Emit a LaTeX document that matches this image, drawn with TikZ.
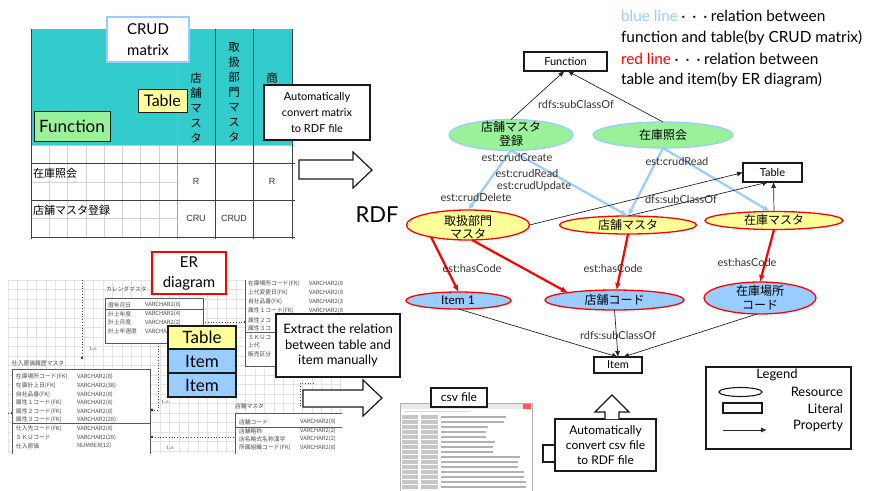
\documentclass[tikz,border=0pt]{standalone}
\usepackage{fontspec}
\setmainfont{Lato}
\newfontfamily\jp{Noto Sans CJK JP}
\newfontfamily\arialf{Liberation Sans}
\usetikzlibrary{arrows.meta,shapes.geometric}
\definecolor{teal1}{HTML}{33CCCC}
\definecolor{fngreen}{HTML}{99F299}
\definecolor{tyellow}{HTML}{FFFF99}
\definecolor{iblue}{HTML}{99CCFF}
\definecolor{lblue}{HTML}{99CCFF}
\definecolor{dk}{HTML}{1A1A1A}
\newcommand{\fz}[2]{\fontsize{#1}{#2}\selectfont}
\begin{document}
\begin{tikzpicture}[x=1pt,y=-1pt,
  every node/.style={inner sep=0pt, outer sep=0pt},
  ert/.style={font=\jp\fz{5.8}{7}, text=black!70, anchor=west},
  ertbl/.style={draw=black!65, fill=white, line width=0.7pt},
  gridc/.style={gray!22, line width=0.4pt},
  dotl/.style={black!70, dotted, line width=0.8pt},
  box/.style={draw=dk, fill=white, line width=1.1pt, align=center},
  lbl/.style={font=\fz{11}{12}, text=black!80},
  res/.style={ellipse, line width=1.3pt},
  fnres/.style={res, fill=fngreen, draw=lblue},
  tbres/.style={res, fill=tyellow, draw=red},
  itres/.style={res, fill=iblue, draw=red},
  lit/.style={draw=dk, fill=white, line width=1.1pt},
  jpt/.style={font=\jp\fz{12}{14}, align=center},
  subarrow/.style={-{Latex[length=6pt,width=5pt]}, line width=0.7pt, black!85},
  crudarrow/.style={-{Latex[length=7pt,width=6pt]}, line width=2.2pt, lblue},
  hasarrow/.style={-{Latex[length=7pt,width=6pt]}, line width=2.2pt, red},
  stk/.style={draw=dk, line width=1.1pt, minimum width=68, font=\fz{17}{19}},
  hollow/.style={draw=dk, fill=white, line width=1.2pt, line join=miter}
]
\useasboundingbox (0,0) rectangle (870,490);
\fill[white] (0,0) rectangle (870,490);

% ================= CRUD matrix =================
\fill[teal1] (31,29) rectangle (293,145);
\foreach \gx in {49.25,67.5,85.75,104,122.25,140.5,158.75}
  \draw[gray!35, line width=0.5pt] (\gx,145) -- (\gx,237);
\foreach \gy in {182,218}
  \draw[gray!35, line width=0.5pt] (31,\gy) -- (177,\gy);
\draw[gray!45, line width=0.6pt] (31,145) -- (295,145);
\draw[gray!70, line width=0.6pt] (177,29) -- (177,239);
\foreach \gx in {31,215,253,292}
  \draw[black!75, line width=0.8pt] (\gx,29) -- (\gx,239);
\foreach \gy in {163,200,237}
  \draw[black!75, line width=0.8pt] (31,\gy) -- (295,\gy);

\node[font=\jp\fz{11}{12}, anchor=west] (m1) at (33,173) {在庫照会};
\node[font=\jp\fz{11}{12}, anchor=west] (m2) at (33,210) {店舗マスタ登録};
\node[font=\arialf\fz{9}{10}, text=black!80] (r1) at (196,181) {R};
\node[font=\arialf\fz{9}{10}, text=black!80] (r2) at (272,181) {R};
\node[font=\arialf\fz{9}{10}, text=black!80] (r3) at (196,218) {CRU};
\node[font=\arialf\fz{9}{10}, text=black!80] (r4) at (234,218) {CRUD};
\node[font=\jp\fz{11.5}{15}, align=center] (h1) at (196,108) {店\\舗\\マ\\ス\\タ};
\node[font=\jp\fz{11.5}{15}, align=center] (h2) at (234,92) {取\\扱\\部\\門\\マ\\ス\\タ};
\node[font=\jp\fz{11.5}{15}] (h3) at (272,78) {商};

\node[draw=lblue, fill=white, line width=1.3pt, minimum width=82, minimum height=45,
      align=center, font=\fz{15}{21}] (crudlbl) at (148,39.5) {CRUD\\matrix};
\node[draw=dk, fill=tyellow, line width=1pt, minimum width=49, minimum height=23,
      font=\fz{16}{18}] (tablbl) at (162.5,100.5) {Table};
\node[draw=dk, fill=fngreen, line width=1pt, minimum width=76, minimum height=30,
      font=\fz{17}{19}] (funclbl) at (72,126) {Function};

\node[box, minimum width=106, minimum height=55, font=\fz{11}{16}] (conv1) at (317,112.5)
  {Automatically\\convert matrix\\to RDF file};
\draw[hollow] (299,160) -- (353,160) -- (353,152) -- (372,170) -- (353,188) -- (353,179) -- (299,179) -- cycle;
\node[font=\fz{22}{24}] (rdf) at (377,215) {RDF};

% ================= ER diagram =================
\begin{scope}
\clip (8,280) rectangle (342,453);
\foreach \gx in {8,17.5,...,342} \draw[gridc] (\gx,280) -- (\gx,453);
\foreach \gy in {280,289.5,...,453} \draw[gridc] (8,\gy) -- (342,\gy);

% dotted relations
\draw[dotl] (82,280) -- (82,358);
\fill[black!80] (82,358) circle[radius=1.4pt];
\node[font=\fz{4.5}{5}, text=black!70] (n1) at (93,349) {1..n};
\draw[dotl] (158,343) -- (158,410) -- (152,410);
\fill[black!80] (152,410) circle[radius=1.6pt];
\node[font=\fz{4.5}{5}, text=black!70] (n2) at (165,402) {1..n};
\draw[dotl] (205,322) -- (245,322);
\fill[black!80] (245,322) circle[radius=1.4pt];
\draw[dotl] (152,437) -- (235,437);
\fill[black!80] (152,437) circle[radius=1.4pt];
\node[font=\fz{4.5}{5}, text=black!70] (n3) at (170,448) {1..n};
\draw[dotl] (8,413) -- (12,413);
\fill[black!80] (12,413) circle[radius=1.4pt];
\draw[dotl] (314,383) -- (300,383) -- (300,408);

% calendar master
\node[ert] (cal) at (106,289) {カレンダマスタ};
\draw[ertbl] (105,298) rectangle (203,343);
\draw[black!65, line width=0.6pt] (105,309.5) -- (203,309.5);
\foreach \yy/\a/\b [count=\i] in {305/{暦年月日}/{VARCHAR2(8)}, 314/{計上年度}/{VARCHAR2(4)}, 322.5/{計上月度}/{VARCHAR2(2)}, 331/{計上年週度}/{VARCHAR}}
  {\node[ert] (ca\i) at (108,\yy) {\a}; \node[ert] (cb\i) at (145,\yy) {\b};}

% stock table (top right), partly hidden by the extract box
\draw[ertbl] (245,272) rectangle (352,366);
\draw[black!65, line width=0.6pt] (245,332) -- (352,332);
\foreach \yy/\a/\b [count=\i] in {284/{在庫場所コード(FK)}/{VARCHAR2(8)}, 293/{上代変更日(FK)}/{VARCHAR2(8)}, 302/{自社品番(FK)}/{VARCHAR2(38)}, 310.5/{属性１コード(FK)}/{VARCHAR2(8)}}
  {\node[ert] (sa\i) at (248,\yy) {\a}; \node[ert] (sb\i) at (309,\yy) {\b};}
\foreach \yy/\a [count=\i] in {320/{属性２コ}, 328.5/{属性３コ}, 337/{ＳＫＵコ}, 345.5/{上代}, 354/{販売区分}}
  {\node[ert] (sc\i) at (248,\yy) {\a};}

% purchase cost history master
\node[ert] (sh) at (12,363) {仕入原価履歴マスタ};
\draw[ertbl] (12,369) rectangle (150,470);
\draw[black!65, line width=0.6pt] (12,423.5) -- (150,423.5);
\foreach \yy/\a/\b [count=\i] in {377/{在庫場所コード(FK)}/{VARCHAR2(8)}, 385.6/{在庫計上日(FK)}/{VARCHAR2(38)}, 394.2/{自社品番(FK)}/{VARCHAR2(8)}, 402.8/{属性１コード(FK)}/{VARCHAR2(8)}, 411.4/{属性２コード(FK)}/{VARCHAR2(8)}, 420/{属性３コード(FK)}/{VARCHAR2(28)}, 428.6/{仕入先コード(FK)}/{VARCHAR2(8)}, 437.2/{ＳＫＵコード}/{VARCHAR2(28)}, 445.8/{仕入原価}/{NUMBER(12)}}
  {\node[ert] (pa\i) at (16,\yy) {\a}; \node[ert] (pb\i) at (77,\yy) {\b};}

% shop master
\node[ert] (tm) at (235,406) {店舗マスタ};
\draw[ertbl] (235,413) rectangle (352,470);
\draw[black!65, line width=0.6pt] (235,427) -- (352,427);
\foreach \yy/\a/\b [count=\i] in {422/{店舗コード}/{VARCHAR2(8)}, 431/{店舗略称}/{VARCHAR2(2)}, 439/{店名略式名称漢字}/{VARCHAR2(2)}, 447.5/{所属組織コード(FK)}/{VARCHAR2(8)}}
  {\node[ert] (ta\i) at (239,\yy) {\a}; \node[ert] (tb\i) at (300,\yy) {\b};}
\end{scope}

\node[draw=red, fill=white, line width=1.3pt, minimum width=74, minimum height=42,
      align=center, font=\fz{15}{20}] (erlbl) at (189,273) {ER\\diagram};
\node[stk, fill=tyellow, minimum height=23] (stT) at (202,337.5) {Table};
\node[stk, fill=iblue, minimum height=24] (stI1) at (202,361) {Item};
\node[stk, fill=iblue, minimum height=24] (stI2) at (202,385) {Item};

\node[box, minimum width=124, minimum height=63, font=\fz{13}{15.5}] (extract) at (338,345.5)
  {Extract the relation\\between table and\\item manually};
\draw[hollow] (303,390) -- (363,390) -- (363,380) -- (382,398) -- (363,416) -- (363,407) -- (303,407) -- cycle;

% ================= csv file =================
\draw[gray!60, fill=white, line width=0.6pt] (400,403) rectangle (532,492);
\fill[gray!18] (400.5,403.5) rectangle (531.5,409);
\fill[red!65] (523,404) rectangle (531,408.5);
\fill[gray!30] (404,410.5) rectangle (470,412);
\foreach \len [count=\r] in {72,70,52,50,50,60,58,58,88,86,86,92,92,94,94}{
  \pgfmathsetmacro\yy{412+\r*5}
  \fill[gray!45] (402,\yy-1.6) rectangle (418,\yy+1.6);
  \fill[gray!45] (421,\yy-1.6) rectangle (438,\yy+1.6);
  \fill[gray!60] (441,\yy-1.1) rectangle (441+\len*0.9,\yy+1.1);
}
\node[box, minimum width=56, minimum height=19, font=\fz{12}{14}] (csvlbl) at (459,397.5) {csv file};

\draw[dk, fill=white, line width=1.1pt] (543,445) rectangle (556,462);
\node[box, minimum width=101, minimum height=52, font=\fz{12}{15}] (conv2) at (605.5,445)
  {Automatically\\convert csv file\\to RDF file};
\draw[hollow] (605,419) -- (605,412) -- (595,412) -- (612,395) -- (629,412) -- (619,412) -- (619,419);

% ================= legend =================
\node[draw=dk, line width=1.1pt, minimum width=145, minimum height=82] (legend) at (778.5,408) {};
\node[font=\fz{13}{15}] (legt) at (777,375) {Legend};
\node[ellipse, draw=dk, line width=1.1pt, minimum width=43, minimum height=9] (legE) at (740.5,392) {};
\node[font=\fz{13}{15}, anchor=east] (legR) at (843,392) {Resource};
\node[draw=dk, line width=1.1pt, minimum width=39, minimum height=10] (legL) at (742.5,408) {};
\node[font=\fz{13}{15}, anchor=east] (legLt) at (843,409) {Literal};
\coordinate (legA) at (723,430);
\coordinate (legB) at (767,430);
\draw[subarrow, line width=0.9pt] (legA) -- (legB);
\node[font=\fz{13}{15}, anchor=east] (legP) at (843,426) {Property};

% ================= top-right explanation =================
\node[font=\fz{15.4}{17}, anchor=west] (t1) at (621,16) {\textcolor{lblue}{blue line}{\jp\fz{11}{12}・・・}relation between};
\node[font=\fz{15.4}{17}, anchor=west] (t2) at (621,37.5) {function and table(by CRUD matrix)};
\node[font=\fz{15.4}{17}, anchor=west] (t3) at (621,59) {\textcolor{red}{red line}{\jp\fz{11}{12}・・・}relation between};
\node[font=\fz{15.4}{17}, anchor=west] (t4) at (621,80) {table and item(by ER diagram)};

% ================= RDF graph =================
\node[lit, minimum width=83, minimum height=19, font=\fz{11}{13}] (func) at (565.5,61.5) {Function};
\node[lit, minimum width=59, minimum height=19, font=\fz{11}{13}] (table) at (772.5,172.5) {Table};
\node[lit, minimum width=48, minimum height=16, font=\fz{11}{13}] (item) at (618,365) {Item};

\node[fnres, minimum width=124, minimum height=31] (f1) at (511,135) {};
\node[fnres, minimum width=140, minimum height=26] (f2) at (663,135) {};
\node[tbres, minimum width=123, minimum height=30] (tori) at (468,225) {};
\node[tbres, minimum width=137, minimum height=18] (tenpo) at (628,225) {};
\node[tbres, minimum width=138, minimum height=18] (zaiko) at (774,220.5) {};
\node[itres, minimum width=105, minimum height=17] (item1) at (458.5,300.5) {};
\node[itres, minimum width=139, minimum height=20] (code) at (614.5,300) {};
\node[itres, minimum width=112, minimum height=32] (basho) at (760,298) {};

% edges
\draw[subarrow] (f1.north) -- ([xshift=-1]func.south);
\draw[subarrow] (f2.north) -- ([xshift=2]func.south);
\draw[crudarrow] (f1.south) -- (tori.north);
\draw[crudarrow] (f1.south) -- (tenpo.north);
\draw[crudarrow] (f2.south) -- (tenpo.north);
\draw[crudarrow] (f2.south) -- ([xshift=-4]zaiko.north);
\draw[subarrow] (tori.east) -- (table.west);
\draw[subarrow] (tenpo.north) -- ([xshift=-4]table.south);
\draw[subarrow] (zaiko.north) -- ([xshift=1]table.south);
\draw[hasarrow] (tori.198) -- (item1.north);
\draw[hasarrow] ([xshift=4]tori.south) -- (code.171);
\draw[hasarrow] (tenpo.south) -- ([xshift=2]code.north);
\draw[hasarrow] (zaiko.south) -- (basho.north);
\draw[subarrow] (item1.south) -- (item.north);
\draw[subarrow] (code.south) -- (item.north);
\draw[subarrow] ([xshift=-3]basho.south) -- ([xshift=5]item.north);

% ellipse texts
\node[jpt] (f1t) at (511,134) {店舗マスタ\\登録};
\node[jpt] (f2t) at (663,135) {在庫照会};
\node[jpt, font=\jp\fz{12}{13}] (torit) at (468,227) {取扱部門\\マスタ};
\node[jpt] (tenpot) at (628,225) {店舗マスタ};
\node[jpt] (zaikot) at (774,220) {在庫マスタ};
\node[font=\fz{12}{14}] (item1t) at (458,300.5) {Item 1};
\node[jpt] (codet) at (614.5,300) {店舗コード};
\node[jpt, font=\jp\fz{12}{14}] (bashot) at (760,298) {在庫場所\\コード};

% edge labels
\node[lbl] (l1) at (576,104) {rdfs:subClassOf};
\node[lbl] (l2) at (517,157) {est:crudCreate};
\node[lbl] (l3) at (527,173) {est:crudRead};
\node[lbl] (l4) at (534,186) {est:crudUpdate};
\node[lbl] (l5) at (476,197) {est:crudDelete};
\node[lbl] (l6) at (677,161) {est:crudRead};
\node[lbl] (l7) at (681,199) {dfs:subClassOf};
\node[lbl] (l8) at (472,268) {est:hasCode};
\node[lbl] (l9) at (613,268) {est:hasCode};
\node[lbl] (l10) at (747,262) {est:hasCode};
\node[lbl] (l11) at (618,335) {rdfs:subClassOf};
\end{tikzpicture}
\end{document}
